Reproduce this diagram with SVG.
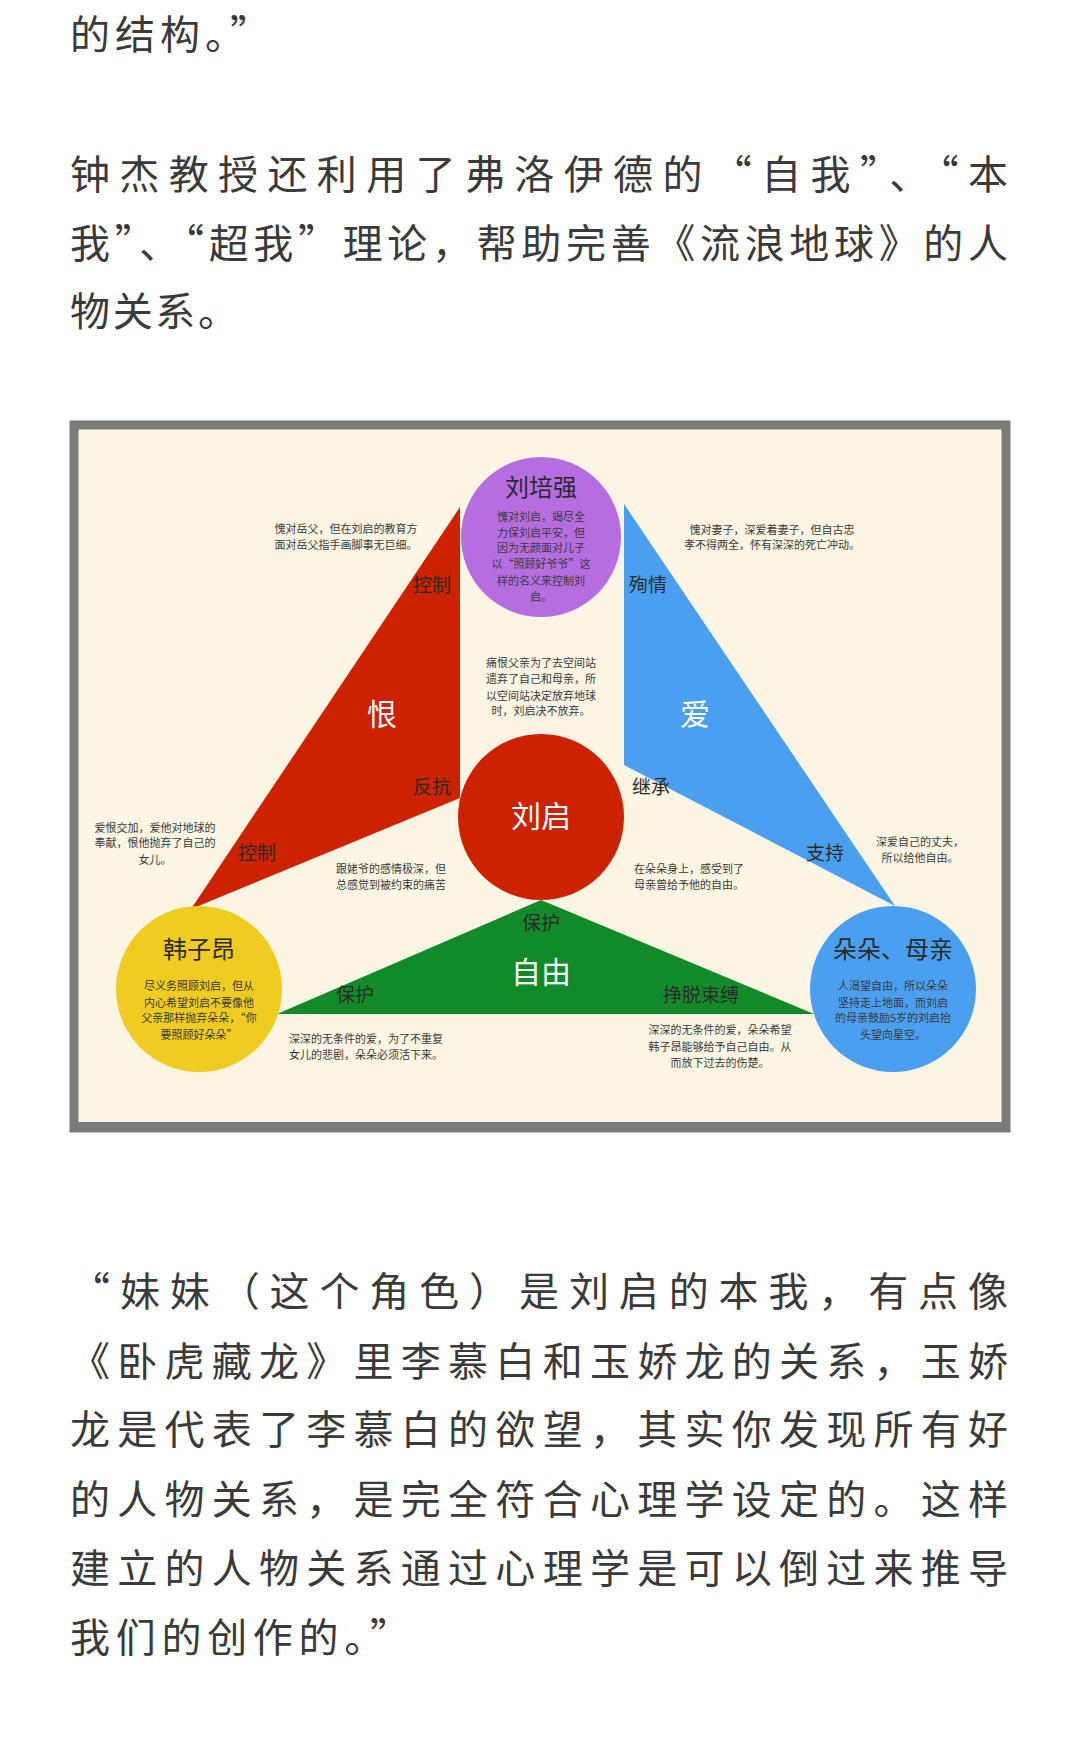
<svg xmlns="http://www.w3.org/2000/svg" width="1080" height="1737" viewBox="0 0 1080 1737">
<style>
.p{font-family:"Noto Sans CJK SC",sans-serif;font-size:40px;fill:#3a3a3a}
.s{font-family:"Noto Sans CJK SC",sans-serif;font-size:11px;fill:#3a3a3a;text-anchor:middle}
.l{font-family:"Noto Sans CJK SC",sans-serif;font-size:19px;fill:#2a2a2a;text-anchor:middle}
.n{font-family:"Noto Sans CJK SC",sans-serif;font-size:24px;fill:#2a2a2a;text-anchor:middle}
.w{font-family:"Noto Sans CJK SC",sans-serif;font-size:30px;fill:#fff;text-anchor:middle}
</style>
<rect width="1080" height="1737" fill="#fff"/>
<text class="p" x="70" y="49" textLength="200">的结构。”</text>
<text class="p" x="70" y="189" textLength="938">钟杰教授还利用了弗洛伊德的“自我”、“本</text>
<text class="p" x="70" y="258" textLength="938">我”、“超我”理论，帮助完善《流浪地球》的人</text>
<text class="p" x="70" y="326" textLength="168">物关系。</text>
<rect x="74" y="425" width="932" height="703" fill="#fcf5e3" stroke="#7b7b7b" stroke-width="9"/>
<rect x="70" y="1122" width="940" height="10" fill="#7b7b7b"/>
<g id="connectors">
<polygon points="460,507 460,798 191,909" fill="#cc2200"/>
<polygon points="624,504 624,765 895,906" fill="#4a9ff0"/>
<polygon points="541,900 277,1014 814,1014" fill="#118a2a"/>
</g>
<g id="liupeiqiang"><circle cx="541" cy="537" r="80" fill="#b56de0"/>
<text class="n" x="541" y="496">刘培强</text>
<text class="s" x="541" y="521">愧对刘启，竭尽全</text><text class="s" x="541" y="537">力保刘启平安，但</text><text class="s" x="541" y="552">因为无颜面对儿子</text><text class="s" x="541" y="568">以“照顾好爷爷”这</text><text class="s" x="541" y="585">样的名义来控制刘</text><text class="s" x="541" y="601">启。</text></g>
<g id="liuqi"><circle cx="541" cy="817" r="83" fill="#cc2200"/><text class="w" x="541" y="827">刘启</text></g>
<g id="hanziang"><circle cx="199" cy="989" r="83" fill="#f0cc22"/>
<text class="n" x="199" y="958">韩子昂</text>
<text class="s" x="199" y="990">尽义务照顾刘启，但从</text><text class="s" x="199" y="1007">内心希望刘启不要像他</text><text class="s" x="199" y="1022">父亲那样抛弃朵朵，“你</text><text class="s" x="199" y="1039">要照顾好朵朵”</text></g>
<g id="duoduo"><circle cx="893" cy="989" r="83" fill="#4a9ff0"/>
<text class="n" x="893" y="958">朵朵、母亲</text>
<text class="s" x="893" y="990">人渴望自由，所以朵朵</text><text class="s" x="893" y="1007">坚持走上地面，而刘启</text><text class="s" x="893" y="1022">的母亲鼓励5岁的刘启抬</text><text class="s" x="893" y="1039">头望向星空。</text></g>
<g id="labels">
<text class="s" x="346" y="533">愧对岳父，但在刘启的教育方</text><text class="s" x="346" y="549">面对岳父指手画脚事无巨细。</text>
<text class="l" x="432" y="592">控制</text>
<text class="w" x="382" y="725">恨</text>
<text class="l" x="432" y="794">反抗</text>
<text class="l" x="257" y="860">控制</text>
<text class="s" x="155" y="832">爱恨交加，爱他对地球的</text><text class="s" x="155" y="847">奉献，恨他抛弃了自己的</text><text class="s" x="155" y="864">女儿。</text>
<text class="s" x="541" y="667">痛恨父亲为了去空间站</text><text class="s" x="541" y="683">遗弃了自己和母亲，所</text><text class="s" x="541" y="700">以空间站决定放弃地球</text><text class="s" x="541" y="715">时，刘启决不放弃。</text>
<text class="l" x="648" y="592">殉情</text>
<text class="s" x="772" y="534">愧对妻子，深爱着妻子，但自古忠</text><text class="s" x="772" y="549">孝不得两全，怀有深深的死亡冲动。</text>
<text class="w" x="695" y="725">爱</text>
<text class="l" x="651" y="794">继承</text>
<text class="l" x="825" y="860">支持</text>
<text class="s" x="920" y="846">深爱自己的丈夫，</text><text class="s" x="920" y="862">所以给他自由。</text>
<text class="s" x="391" y="873">跟姥爷的感情极深，但</text><text class="s" x="391" y="889">总感觉到被约束的痛苦</text>
<text class="s" x="689" y="873">在朵朵身上，感受到了</text><text class="s" x="689" y="889">母亲曾给予他的自由。</text>
<text class="l" x="541" y="930">保护</text>
<text class="w" x="541" y="983">自由</text>
<text class="l" x="355" y="1002">保护</text>
<text class="l" x="701" y="1002">挣脱束缚</text>
<text class="s" x="366" y="1043">深深的无条件的爱，为了不重复</text><text class="s" x="366" y="1059">女儿的悲剧，朵朵必须活下来。</text>
<text class="s" x="720" y="1034">深深的无条件的爱，朵朵希望</text><text class="s" x="720" y="1051">韩子昂能够给予自己自由。从</text><text class="s" x="720" y="1067">而放下过去的伤楚。</text>
</g>
<text class="p" x="70" y="1306" textLength="938">“妹妹（这个角色）是刘启的本我，有点像</text>
<text class="p" x="70" y="1376" textLength="938">《卧虎藏龙》里李慕白和玉娇龙的关系，玉娇</text>
<text class="p" x="70" y="1444" textLength="938">龙是代表了李慕白的欲望，其实你发现所有好</text>
<text class="p" x="70" y="1514" textLength="938">的人物关系，是完全符合心理学设定的。这样</text>
<text class="p" x="70" y="1583" textLength="938">建立的人物关系通过心理学是可以倒过来推导</text>
<text class="p" x="70" y="1652" textLength="340">我们的创作的。”</text>
</svg>
